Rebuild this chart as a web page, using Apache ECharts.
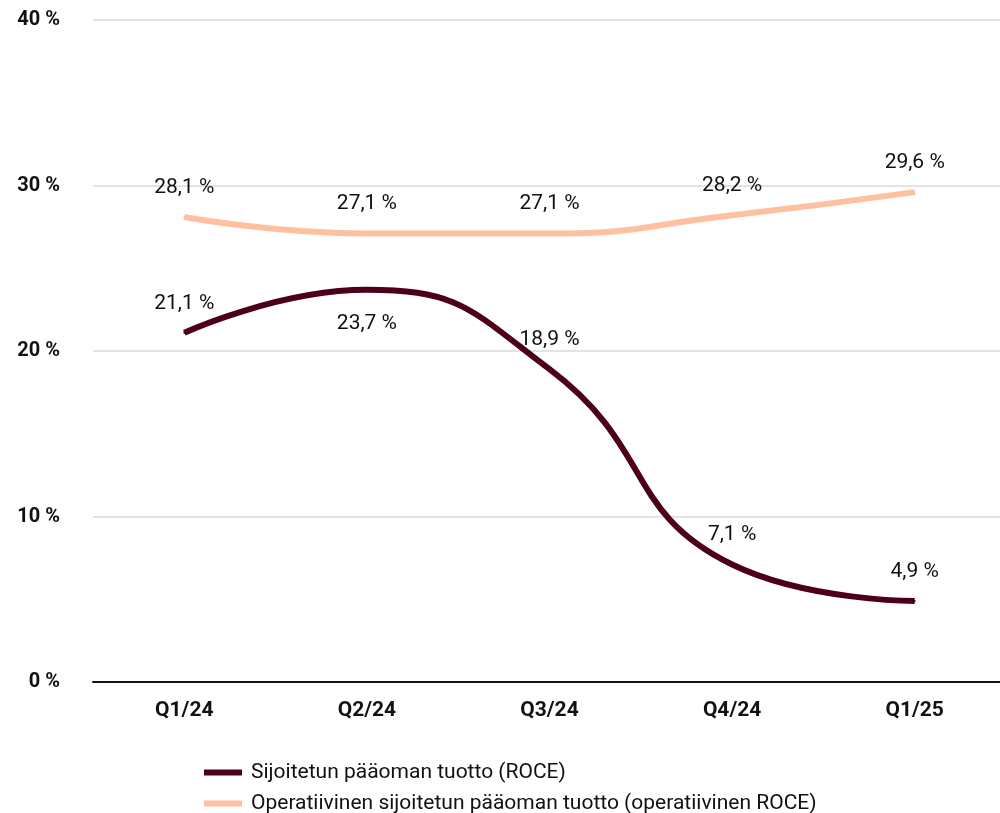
<!DOCTYPE html>
<html>
<head>
<meta charset="utf-8">
<script src="https://cdn.jsdelivr.net/npm/echarts@6/dist/echarts.min.js"></script>
<style>
  html, body { margin: 0; padding: 0; background: #fff; }
  #chart { width: 1000px; height: 813px; }
</style>
</head>
<body>
<div id="chart"></div>
<script>
var quarters = ["Q1/24", "Q2/24", "Q3/24", "Q4/24", "Q1/25"];
var roce = [21.1, 23.7, 18.9, 7.1, 4.9];
var roceOperative = [28.1, 27.1, 27.1, 28.2, 29.6];
var roceLabelPos = ["top", "bottom", "top", "top", "top"];
var seriesNames = [
  "Sijoitetun pääoman tuotto (ROCE)",
  "Operatiivinen sijoitetun pääoman tuotto (operatiivinen ROCE)"
];

var myChart = echarts.init(document.getElementById("chart"));

function pct(v) {
  return v.toFixed(1).replace(".", ",") + " %";
}

function legendFor(name, top) {
  return {
    left: 199,
    top: top,
    itemWidth: 38,
    itemHeight: 6,
    icon: "rect",
    textStyle: { fontSize: 21, color: "#111", fontFamily: "Roboto", padding: [0, 0, 0, 4] },
    data: [name]
  };
}

var option = {
  textStyle: { fontFamily: "Roboto" },
  animation: false,
  grid: { left: 93, width: 913, top: 20, bottom: 131, outerBoundsMode: "none" },
  legend: [legendFor(seriesNames[0], 757), legendFor(seriesNames[1], 788)],
  xAxis: {
    type: "category",
    data: quarters,
    axisLine: { lineStyle: { color: "#111", width: 2 } },
    axisTick: { show: false },
    axisLabel: { fontSize: 21, fontWeight: "bold", color: "#111", margin: 18 }
  },
  yAxis: {
    type: "value",
    min: 0,
    max: 40,
    interval: 10,
    axisLabel: {
      fontSize: 20, fontWeight: "bold", color: "#111", margin: 33,
      formatter: function (v) { return v + " %"; }
    },
    splitLine: { lineStyle: { color: "#e3e3e3", width: 2 } }
  },
  series: [
    {
      name: seriesNames[0],
      type: "line",
      smooth: 0.5,
      symbol: "circle",
      symbolSize: 2,
      showSymbol: true,
      color: "#4d0015",
      lineStyle: { width: 6, color: "#4d0015" },
      data: roce.map(function (v, i) {
        return {
          value: v,
          label: { show: true, position: roceLabelPos[i], distance: roceLabelPos[i] === "top" ? 18 : 22 }
        };
      }),
      label: {
        fontSize: 21, color: "#111",
        formatter: function (p) { return pct(p.value); }
      }
    },
    {
      name: seriesNames[1],
      type: "line",
      smooth: 0.5,
      symbol: "circle",
      symbolSize: 2,
      showSymbol: true,
      color: "#ffc0a1",
      lineStyle: { width: 6, color: "#ffc0a1" },
      data: roceOperative,
      label: {
        show: true, position: "top", distance: 18,
        fontSize: 21, color: "#111",
        formatter: function (p) { return pct(p.value); }
      }
    }
  ]
};

myChart.setOption(option);
</script>
</body>
</html>
